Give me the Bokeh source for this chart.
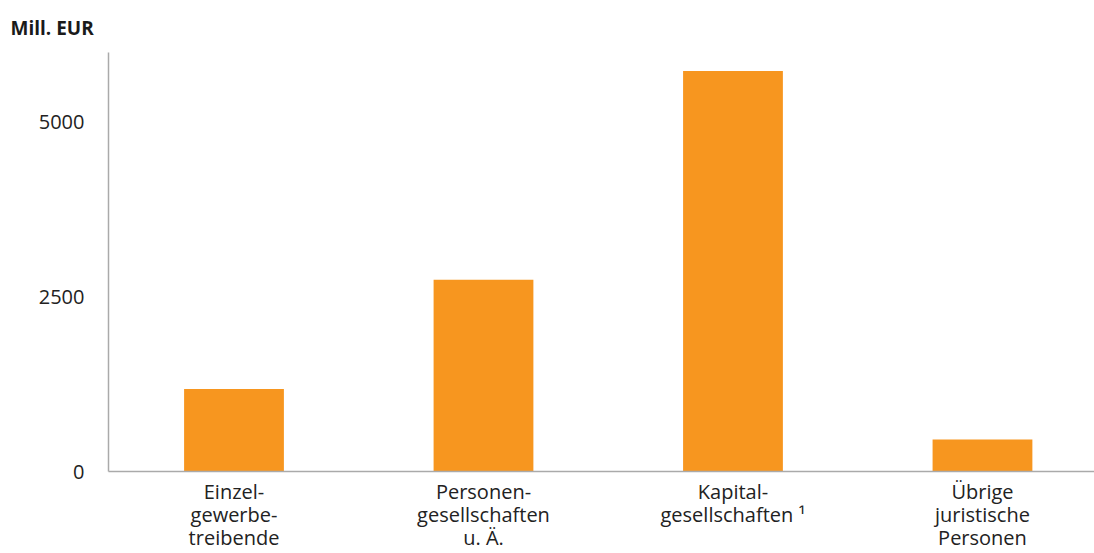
from bokeh.plotting import figure
from bokeh.models import FixedTicker, Range1d, ColumnDataSource, Title
from bokeh.embed import file_html
from bokeh.resources import INLINE

categories = ["Einzel-\ngewerbe-\ntreibende", "Personen-\ngesellschaften\nu. Ä.",
              "Kapital-\ngesellschaften ¹", "Übrige\njuristische\nPersonen"]
values = [1180, 2745, 5735, 460]
y_ticks = [0, 2500, 5000]
unit_label = "Mill. EUR"

xs = list(range(len(categories)))
src = ColumnDataSource(dict(x=xs, top=values))

x_start, x_end = -0.503, 3.449
y_end = 6000

p = figure(width=1094, height=553, output_backend="svg", toolbar_location=None,
           x_range=Range1d(x_start, x_end), y_range=Range1d(0, y_end),
           min_border_left=108, min_border_right=0, min_border_top=52, min_border_bottom=0)
p.vbar(x="x", top="top", width=0.4, source=src, color="#F7961F", line_color=None)

p.title = Title(text=unit_label, align="left", offset=-98, text_font="Open Sans",
                text_font_size="19px", text_font_style="bold", text_color="#1a1a1a",
                standoff=23)

p.xgrid.visible = False
p.ygrid.visible = False
p.outline_line_color = None

p.xaxis.ticker = FixedTicker(ticks=xs)
p.xaxis.major_label_overrides = {i: c for i, c in enumerate(categories)}
p.yaxis.ticker = FixedTicker(ticks=y_ticks)

for ax in (p.xaxis[0], p.yaxis[0]):
    ax.axis_line_color = "#aaaaaa"
    ax.axis_line_width = 1.5
    ax.major_tick_line_color = None
    ax.minor_tick_line_color = None
    ax.major_label_text_font = "Open Sans"
    ax.major_label_text_font_size = "20px"
    ax.major_label_text_color = "#222222"
p.xaxis.major_label_text_line_height = 0.86
p.yaxis.major_label_standoff = 18
p.xaxis.major_label_standoff = 0

open("out.html", "w").write(file_html(p, INLINE))
